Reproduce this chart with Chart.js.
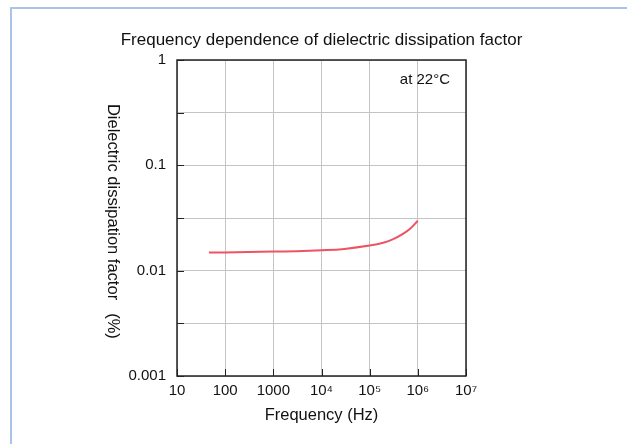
<!DOCTYPE html>
<html>
<head>
<meta charset="utf-8">
<script src="https://cdn.jsdelivr.net/npm/chart.js@4"></script>
<style>
  html, body { margin: 0; padding: 0; background: #fff; }
  .marco { position: absolute; left: 10px; top: 7px; width: 640px; height: 460px;
           border-left: 2px solid #a9c4ea; border-top: 2px solid #a9c4ea; }
  #grafico { position: absolute; left: 0; top: 0; }
</style>
</head>
<body>
<div class="marco"></div>
<canvas id="grafico" width="627" height="444"></canvas>
<script>
// datos
const frecuencias = [46, 100, 300, 1000, 3000, 10000, 30000, 100000, 200000, 300000, 500000, 700000, 1000000];
const factorDisipacion = [0.0149, 0.0149, 0.0150, 0.0152, 0.0153, 0.0156, 0.0161, 0.0173, 0.0185, 0.0198, 0.0225, 0.0252, 0.0298];

const ticksX = [10, 100, 1000, 10000, 100000, 1000000, 10000000];
const etiquetasX = ['10', '100', '1000', '10⁴', '10⁵', '10⁶', '10⁷'];
const ticksY = [0.001, 0.00316, 0.01, 0.0316, 0.1, 0.316, 1];
const etiquetasY = {0.001: '0.001', 0.01: '0.01', 0.1: '0.1', 1: '1'};

const titulo = 'Frequency dependence of dielectric dissipation factor';
const tituloY = 'Dielectric dissipation factor';
const unidadY = '(%)';
const tituloX = 'Frequency (Hz)';
const nota = 'at 22°C';

const fuente = '"Liberation Sans", Arial, sans-serif';

const puntos = frecuencias.map((f, i) => ({ x: f, y: factorDisipacion[i] }));

// textos, marco y marcas interiores
const extras = {
    id: 'extras',
    afterDraw(chart) {
        const ctx = chart.ctx;
        const area = chart.chartArea;
        const sx = chart.scales.x;
        const sy = chart.scales.y;
        ctx.save();

        // marcas hacia adentro
        ctx.strokeStyle = '#222';
        ctx.lineWidth = 1;
        ticksY.forEach(v => {
            const y = Math.round(sy.getPixelForValue(v)) + 0.5;
            ctx.beginPath();
            ctx.moveTo(area.left, y);
            ctx.lineTo(area.left + 7, y);
            ctx.stroke();
        });
        ticksX.forEach(v => {
            const x = Math.round(sx.getPixelForValue(v)) + 0.5;
            ctx.beginPath();
            ctx.moveTo(x, area.bottom);
            ctx.lineTo(x, area.bottom - 7);
            ctx.stroke();
        });

        // marco del area
        ctx.lineWidth = 1.5;
        ctx.strokeStyle = '#222';
        ctx.strokeRect(area.left, area.top, area.right - area.left, area.bottom - area.top);

        ctx.fillStyle = '#111';
        const centro = (area.left + area.right) / 2;

        ctx.font = '17px ' + fuente;
        ctx.textAlign = 'center';
        ctx.textBaseline = 'middle';
        ctx.fillText(titulo, centro, 40);

        ctx.font = '16.5px ' + fuente;
        ctx.fillText(tituloX, centro, 415);

        ctx.font = '15px ' + fuente;
        ctx.textAlign = 'right';
        ctx.fillText(nota, area.right - 16, 80);

        // titulo eje y, girado hacia la derecha
        ctx.font = '16.5px ' + fuente;
        ctx.textAlign = 'center';
        ctx.save();
        ctx.translate(113, 202);
        ctx.rotate(Math.PI / 2);
        ctx.fillText(tituloY, 0, 0);
        ctx.restore();
        ctx.save();
        ctx.translate(113, 326);
        ctx.rotate(Math.PI / 2);
        ctx.fillText(unidadY, 0, 0);
        ctx.restore();

        ctx.restore();
    }
};

const ctx = document.getElementById('grafico').getContext('2d');
window.miGrafico = new Chart(ctx, {
    type: 'line',
    data: {
        datasets: [{
            data: puntos,
            borderColor: '#ec5462',
            borderWidth: 2,
            pointRadius: 0,
            tension: 0.4,
            fill: false
        }]
    },
    options: {
        responsive: false,
        animation: false,
        layout: { padding: { left: 0, top: 60, right: 161, bottom: 0 } },
        plugins: { legend: { display: false }, tooltip: { enabled: false } },
        scales: {
            x: {
                type: 'logarithmic',
                min: 10,
                max: 10000000,
                afterBuildTicks: scale => { scale.ticks = ticksX.map(v => ({ value: v })); },
                afterFit: scale => { scale.height = 68; },
                ticks: {
                    autoSkip: false,
                    maxRotation: 0,
                    padding: 6,
                    color: '#111',
                    font: { family: fuente, size: 15 },
                    callback: (v) => etiquetasX[ticksX.indexOf(v)] || ''
                },
                grid: { color: '#c4c4c8', lineWidth: 1, drawTicks: false },
                border: { display: false }
            },
            y: {
                type: 'logarithmic',
                min: 0.001,
                max: 1,
                afterBuildTicks: scale => { scale.ticks = ticksY.map(v => ({ value: v })); },
                afterFit: scale => { scale.width = 177; },
                ticks: {
                    autoSkip: false,
                    padding: 11,
                    color: '#111',
                    font: { family: fuente, size: 15 },
                    callback: (v) => etiquetasY[v] || ''
                },
                grid: { color: '#c4c4c8', lineWidth: 1, drawTicks: false },
                border: { display: false }
            }
        }
    },
    plugins: [extras]
});
</script>
</body>
</html>
